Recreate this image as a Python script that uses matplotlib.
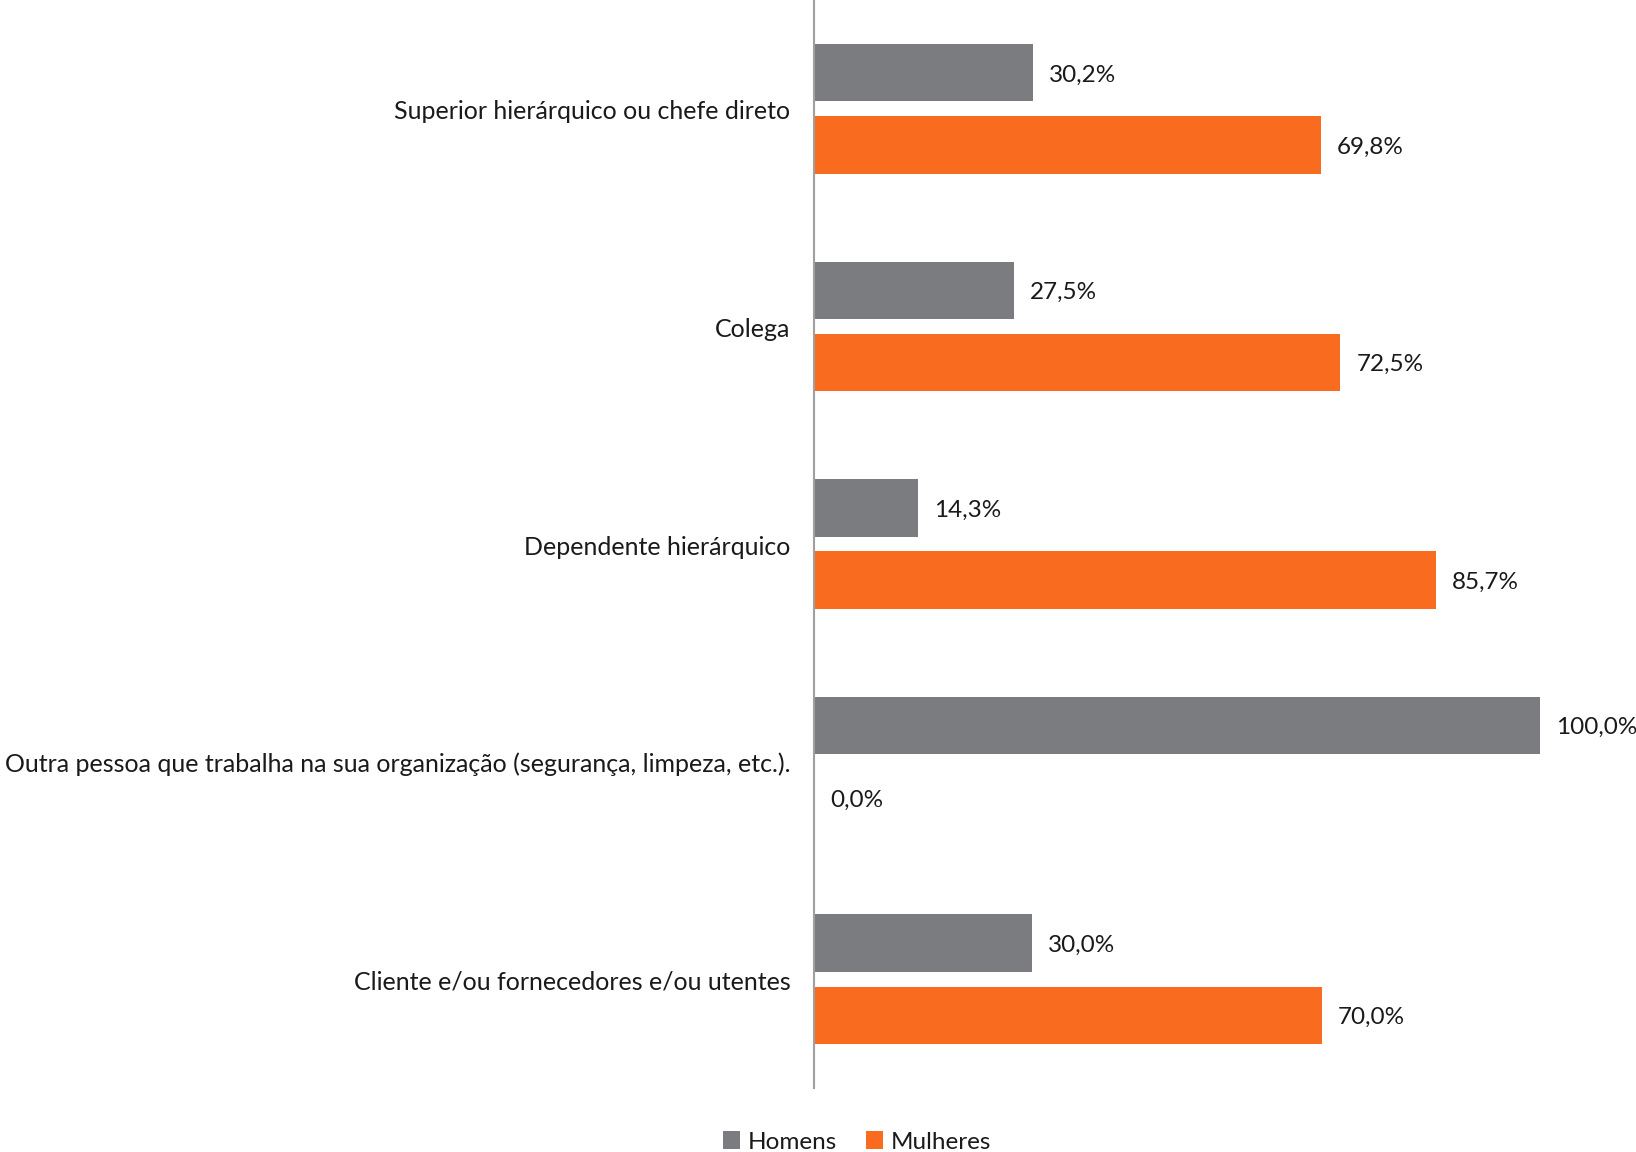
import matplotlib
matplotlib.use("Agg")
import matplotlib.pyplot as plt
import numpy as np

categories = [
    "Superior hierárquico ou chefe direto",
    "Colega",
    "Dependente hierárquico",
    "Outra pessoa que trabalha na sua organização (segurança, limpeza, etc.).",
    "Cliente e/ou fornecedores e/ou utentes",
]
homens = [30.2, 27.5, 14.3, 100.0, 30.0]
mulheres = [69.8, 72.5, 85.7, 0.0, 70.0]
series_names = ["Homens", "Mulheres"]

GRAY = "#7B7C80"
ORANGE = "#F96B1F"

plt.rcParams["font.family"] = ["Lato", "DejaVu Sans"]
FS_CAT = 18
FS = 17.5

W, H = 1636, 1152
fig = plt.figure(figsize=(W / 100, H / 100), dpi=100)
ax_left = 814 / W
ax_right = 1600 / W
ax = fig.add_axes([ax_left, 1 - 1088 / H, ax_right - ax_left, 1088 / H])

n = len(categories)
y = np.arange(n)
bh = 0.264
off = 0.166
ax.barh(y - off, homens, height=bh, color=GRAY, label=series_names[0])
ax.barh(y + off, mulheres, height=bh, color=ORANGE, label=series_names[1])

xmax = (1600 - 814) / 7.26
ax.set_xlim(0, xmax)
ax.set_ylim(n - 0.5, -0.5)

pad = 16 / 7.26
for i in range(n):
    ax.text(homens[i] + pad, y[i] - off + 0.01, f"{homens[i]:.1f}%".replace(".", ","),
            va="center", ha="left", fontsize=FS, color="#1a1a1a")
    ax.text(mulheres[i] + pad, y[i] + off + 0.01, f"{mulheres[i]:.1f}%".replace(".", ","),
            va="center", ha="left", fontsize=FS, color="#1a1a1a")

ax.set_yticks(y + 0.005)
ax.set_yticklabels(categories, fontsize=FS_CAT, color="#1a1a1a")
ax.tick_params(axis="y", length=0, pad=17)
ax.set_xticks([])
for s in ["top", "right", "bottom"]:
    ax.spines[s].set_visible(False)
ax.spines["left"].set_color("#A0A0A0")
ax.spines["left"].set_linewidth(1.5)

fig.legend(loc="center", bbox_to_anchor=(857 / W, 1 - 1142 / H), ncol=2,
           frameon=False, fontsize=FS, handlelength=0.7, handleheight=0.7,
           handletextpad=0.3, columnspacing=1.2, labelcolor="#1a1a1a")

fig.savefig("out.png", dpi=100, facecolor="white")
